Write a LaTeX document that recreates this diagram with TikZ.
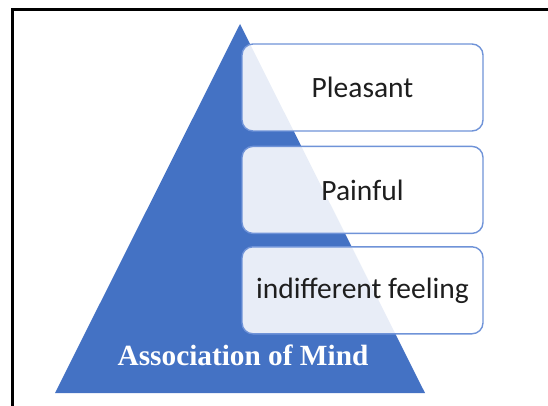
\documentclass[tikz,border=0pt]{standalone}
\usepackage{fontspec}
\setmainfont{Liberation Serif}
\newfontfamily\boxfont{Carlito}
\usetikzlibrary{positioning}

\definecolor{pyrblue}{HTML}{4472C4}
\definecolor{boxline}{HTML}{6F93D8}
\definecolor{boxtext}{HTML}{1E1E1E}

\begin{document}
\begin{tikzpicture}[
    x=1pt, y=-1pt,
    feeling/.style={
        rectangle,
        draw=boxline,
        line width=1.4pt,
        fill=white,
        fill opacity=0.88,
        text opacity=1,
        text=boxtext,
        minimum width=241pt,
        minimum height=87pt,
        rounded corners=11pt,
        font=\boxfont\fontsize{29.5}{34}\selectfont
    },
    title/.style={text=white, font=\bfseries\fontsize{29.3}{34}\selectfont}
]
\useasboundingbox (0,0) rectangle (548,406);

% Frame (cut off at right and bottom)
\draw[line width=3pt] (12.5,406) |- (548,9.5);

% Pyramid
\coordinate (apex) at (240,24);
\coordinate (baseL) at (55,393);
\coordinate (baseR) at (425,393);
\fill[pyrblue] (apex) -- (baseL) -- (baseR) -- cycle;

% Feelings
\node[feeling] (pleasant) at (362.5,87.5) {Pleasant};
\node[feeling, below=14pt of pleasant] (painful) {Painful};
\node[feeling, below=12pt of painful] (indiff) {indifferent feeling};

% Title
\node[title] (assoc) at (243,355) {Association of Mind};

\end{tikzpicture}
\end{document}
